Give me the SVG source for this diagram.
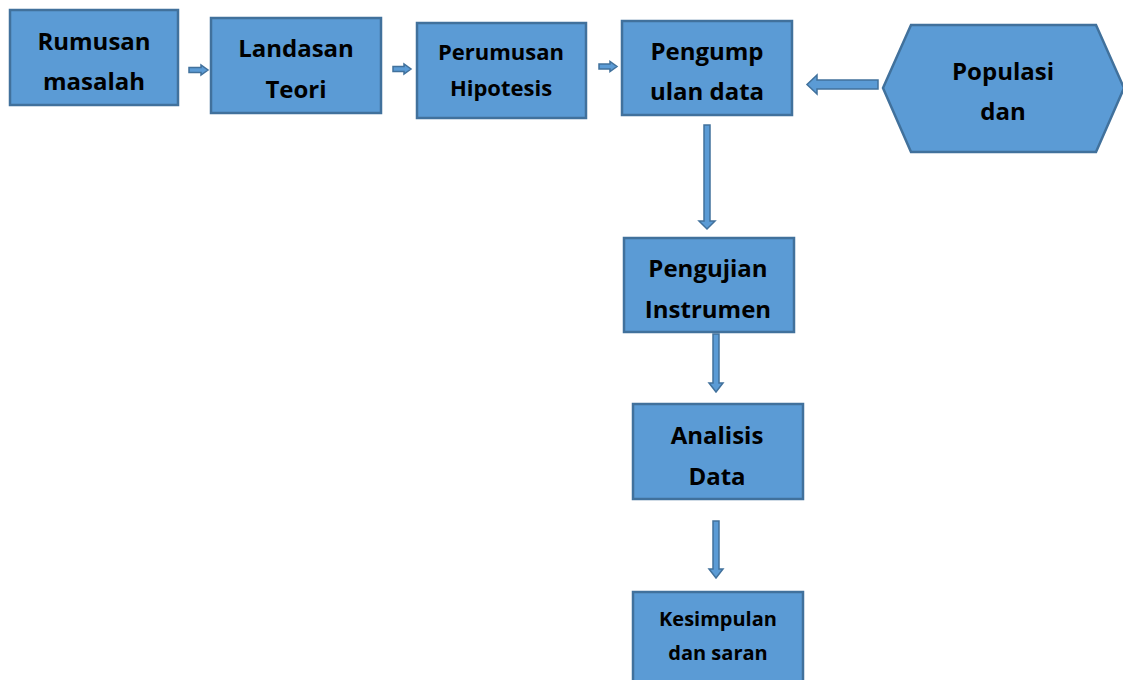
<svg xmlns="http://www.w3.org/2000/svg" width="1123" height="680" viewBox="0 0 1123 680">
<style>
.box{fill:#5B9BD5;stroke:#41719C;stroke-width:2.5}
.arr{fill:#5B9BD5;stroke:#41719C;stroke-width:1.5;stroke-linejoin:miter}
.t{font-family:"Open Sans","Liberation Sans",sans-serif;font-weight:700;fill:#000;text-anchor:middle}
.l{font-size:24px}
.m{font-size:22px}
.s{font-size:20px}
</style>
<rect width="1123" height="680" fill="#fff"/>
<g id="connectors">
<polygon class="arr" points="189,67.5 201,67.5 201,65 208,70 201,75 201,72.5 189,72.5"/>
<polygon class="arr" points="393,66.5 404,66.5 404,64 411,69 404,74 404,71.5 393,71.5"/>
<polygon class="arr" points="599,64 610,64 610,61.5 617,66.5 610,71.5 610,69 599,69"/>
<polygon class="arr" points="878,80 817,80 817,75 807,84.5 817,94 817,89 878,89"/>
<polygon class="arr" points="704,125 710,125 710,221 715,221 707,229 699,221 704,221"/>
<polygon class="arr" points="713,334 719,334 719,383 723,383 716,392 709,383 713,383"/>
<polygon class="arr" points="713,521 719,521 719,569 723,569 716,578 709,569 713,569"/>
</g>
<g id="rumusan"><rect class="box" x="10" y="10" width="168" height="95"/>
<text class="t l" x="94" y="50">Rumusan</text><text class="t l" x="94" y="90">masalah</text></g>
<g id="landasan"><rect class="box" x="211" y="18" width="170" height="95"/>
<text class="t l" x="296" y="57">Landasan</text><text class="t l" x="296" y="98">Teori</text></g>
<g id="hipotesis"><rect class="box" x="417" y="23" width="169" height="95"/>
<text class="t m" x="501" y="60">Perumusan</text><text class="t m" x="501" y="96">Hipotesis</text></g>
<g id="pengumpulan"><rect class="box" x="622" y="21" width="170" height="94"/>
<text class="t l" x="707" y="60">Pengump</text><text class="t l" x="707" y="100">ulan data</text></g>
<g id="populasi"><polygon class="box" points="883,88 911,25 1096,25 1124,88 1096,152 911,152"/>
<text class="t l" x="1003" y="80">Populasi</text><text class="t l" x="1003" y="120">dan</text></g>
<g id="pengujian"><rect class="box" x="624" y="238" width="170" height="94"/>
<text class="t l" x="708" y="277">Pengujian</text><text class="t l" x="708" y="318">Instrumen</text></g>
<g id="analisis"><rect class="box" x="633" y="404" width="170" height="95"/>
<text class="t l" x="717" y="444">Analisis</text><text class="t l" x="717" y="485">Data</text></g>
<g id="kesimpulan"><rect class="box" x="633" y="592" width="170" height="100"/>
<text class="t s" x="718" y="626">Kesimpulan</text><text class="t s" x="718" y="660">dan saran</text></g>
</svg>
